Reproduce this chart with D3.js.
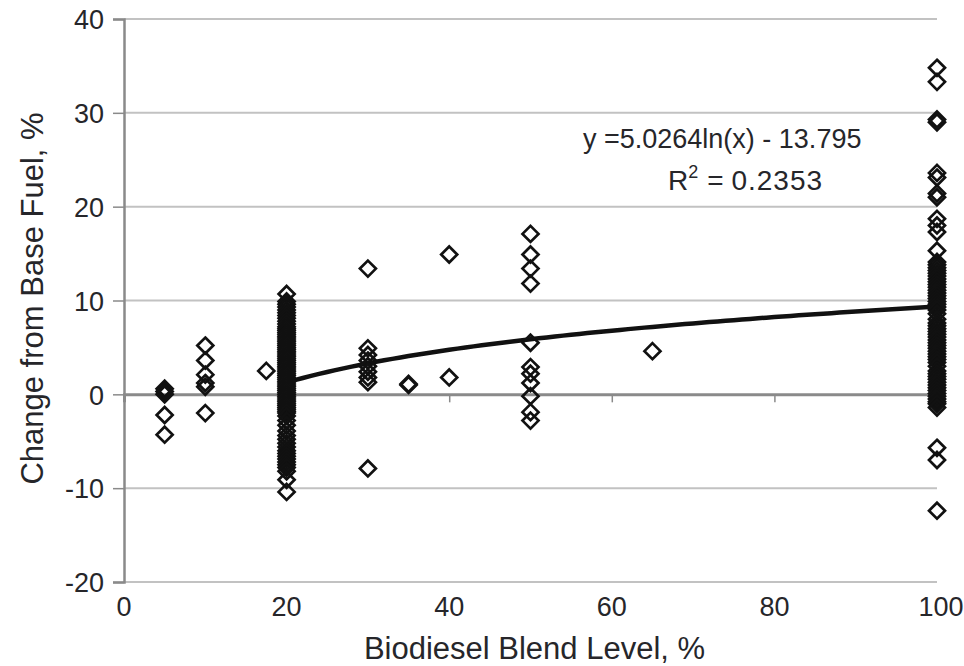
<!DOCTYPE html>
<html>
<head>
<meta charset="utf-8">
<script src="https://cdn.jsdelivr.net/npm/d3@7"></script>
<style>
  html, body { margin: 0; padding: 0; background: #fff; }
  svg text { font-family: "Liberation Sans", Arial, Helvetica, sans-serif; fill: #26262a; }
</style>
</head>
<body>
<div id="chart"></div>
<script>
/* ── data: change from base fuel (%) by blend level ── */
const b5   = [0.6, 0.3, 0.0, -2.2, -4.3];
const b10  = [5.2, 3.6, 2.1, 1.2, 0.8, -2.0];
const b17  = [2.5];
const b20  = [10.7, 9.9, 9.6, 9.3, 9.0, 8.7, 8.4, 8.1, 7.8, 7.5, 7.2, 7.0, 6.8, 6.6, 6.4,
              6.2, 6.0, 5.8, 5.6, 5.4, 5.2, 5.0, 4.8, 4.6, 4.4, 4.2, 4.0, 3.8, 3.6, 3.4,
              3.2, 3.0, 2.8, 2.6, 2.4, 2.2, 2.0, 1.8, 1.6, 1.4, 1.2, 1.0, 0.8, 0.6, 0.4,
              0.2, 0.0, -0.2, -0.4, -0.6, -0.8, -1.0, -1.2, -1.4, -1.6, -1.8, -2.0, -2.3,
              -2.8, -3.3, -3.9, -4.4, -4.8, -5.2, -5.6, -6.0, -6.3, -6.6, -6.9, -7.2,
              -7.5, -7.8, -8.2, -9.1, -10.4];
const b30  = [13.4, 4.9, 4.2, 3.6, 3.0, 2.4, 1.8, 1.3, -7.9];
const b35  = [1.0, 1.1];
const b40  = [14.9, 1.8];
const b50  = [17.1, 14.9, 13.4, 11.8, 5.5, 2.9, 2.2, 1.2, -0.2, -1.9, -2.8];
const b65  = [4.6];
const b100 = [34.8, 33.3, 29.3, 29.0, 23.6, 23.1, 21.4, 21.0, 18.7, 18.0, 17.3, 15.3,
              14.1, 13.8, 13.5, 13.2, 12.9, 12.6, 12.3, 12.0, 11.7, 11.4, 11.1, 10.8,
              10.5, 10.2, 9.9, 9.6, 9.3, 9.0, 8.6, 8.0, 7.6, 7.3, 7.0, 6.7, 6.4, 6.1,
              5.8, 5.5, 5.2, 4.9, 4.6, 4.3, 4.0, 3.7, 3.4, 3.0, 2.5, 2.2, 1.9, 1.6, 1.3,
              1.0, 0.7, 0.4, 0.1, -0.2, -0.5, -0.8, -1.0, -1.4, -5.7, -7.0, -12.4];

const blendLevels = [5, 10, 17.5, 20, 30, 35, 40, 50, 65, 100];
const columns     = [b5, b10, b17, b20, b30, b35, b40, b50, b65, b100];

const xTicks = [0, 20, 40, 60, 80, 100];
const yTicks = [-20, -10, 0, 10, 20, 30, 40];

// logarithmic trend line printed on the chart
const trendA = 5.0264, trendB = -13.795;
const trendLabel = "y =5.0264ln(x) - 13.795";
const r2Label = "0.2353";

/* ── layout ── */
const W = 964, H = 666;
const M = { top: 19, right: 27, bottom: 84, left: 124 };

const points = [];
blendLevels.forEach((x, i) => columns[i].forEach(y => points.push({ x, y })));

const svg = d3.select('#chart').append('svg')
  .attr('width', W).attr('height', H);

const x = d3.scaleLinear().domain([0, 100]).range([M.left, W - M.right]);
const y = d3.scaleLinear().domain([-20, 40]).range([H - M.bottom, M.top]);

// horizontal gridlines
svg.append('g')
  .selectAll('line')
  .data(yTicks.filter(d => d !== 0))
  .join('line')
  .attr('x1', x(0)).attr('x2', x(100))
  .attr('y1', d => y(d)).attr('y2', d => y(d))
  .attr('stroke', '#c2c2c2').attr('stroke-width', 2);

// y axis (plain hyphen minus, as in the original)
const yAxis = svg.append('g')
  .attr('transform', `translate(${x(0)},0)`)
  .call(d3.axisLeft(y).tickValues(yTicks).tickSize(11).tickPadding(9)
    .tickFormat(d => String(d)));
yAxis.select('.domain').attr('stroke', '#8a8a8a').attr('stroke-width', 2.5);
yAxis.selectAll('.tick line').attr('stroke', '#8a8a8a').attr('stroke-width', 1.5);
yAxis.selectAll('.tick text').attr('font-size', 27).attr('dy', '0.36em')
  .style('fill', '#26262a');

// horizontal axis crossing at zero
const zeroAxis = svg.append('g')
  .attr('transform', `translate(0,${y(0)})`)
  .call(d3.axisBottom(x).tickValues(xTicks.slice(1, -1)).tickSize(8).tickFormat(''));
zeroAxis.select('.domain').attr('stroke', '#8a8a8a').attr('stroke-width', 3);
zeroAxis.selectAll('.tick line').attr('stroke', '#8a8a8a').attr('stroke-width', 1.5);

// category labels sit at the bottom of the plot
svg.append('g')
  .selectAll('text')
  .data(xTicks)
  .join('text')
  .attr('x', d => x(d) + (d === 100 ? 4 : 0))
  .attr('y', y(-20) + 34)
  .attr('text-anchor', 'middle')
  .attr('font-size', 27)
  .text(d => d);

// trend line
const trend = d3.range(20, 100.01, 1).map(v => ({ x: v, y: trendA * Math.log(v) + trendB }));
svg.append('path')
  .datum(trend)
  .attr('fill', 'none')
  .attr('stroke', '#111')
  .attr('stroke-width', 4.5)
  .attr('d', d3.line().x(d => x(d.x)).y(d => y(d.y)));

// open diamond markers
const s = 8;
svg.append('g')
  .selectAll('path')
  .data(points)
  .join('path')
  .attr('transform', d => `translate(${x(d.x)},${y(d.y)})`)
  .attr('d', `M0,${-s}L${s},0L0,${s}L${-s},0Z`)
  .attr('fill', 'none')
  .attr('stroke', '#111')
  .attr('stroke-width', 2.7);

// equation annotation
svg.append('text')
  .attr('x', 583).attr('y', 148)
  .attr('font-size', 27)
  .text(trendLabel);
const r2 = svg.append('text')
  .attr('x', 668).attr('y', 190)
  .attr('font-size', 28);
r2.append('tspan').text('R');
r2.append('tspan').attr('font-size', 18).attr('dy', -12).text('2');
r2.append('tspan').attr('dy', 12).attr('dx', 9).text('= ');
r2.append('tspan').attr('letter-spacing', 1).text(r2Label);

// axis titles
svg.append('text')
  .attr('x', (x(0) + x(100)) / 2 + 4).attr('y', 659)
  .attr('text-anchor', 'middle')
  .attr('font-size', 31)
  .text('Biodiesel Blend Level, %');

svg.append('text')
  .attr('transform', `translate(43,${(y(40) + y(-20)) / 2 - 2}) rotate(-90)`)
  .attr('text-anchor', 'middle')
  .attr('font-size', 31)
  .text('Change from Base Fuel, %');
</script>
</body>
</html>
